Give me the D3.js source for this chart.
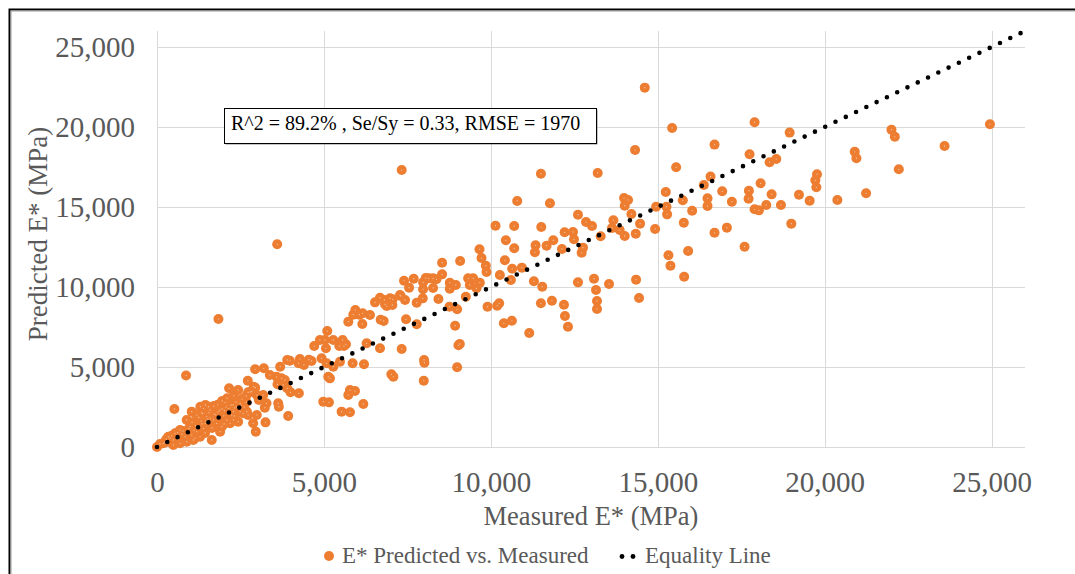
<!DOCTYPE html>
<html>
<head>
<meta charset="utf-8">
<script src="https://cdn.jsdelivr.net/npm/d3@7"></script>
<style>
  html, body { margin: 0; padding: 0; background: #fff; }
  svg { display: block; }
</style>
</head>
<body>
<svg id="chart" width="1075" height="574"></svg>
<script>
// Measured vs. predicted dynamic modulus E* (MPa): [measured, predicted]
const observations = [
  [17900,20300],[18950,19650],[16700,18900],[17750,18300],[18350,17800],[18550,18000],[20900,18450],[20950,18050],
  [16580,16900],[16380,16380],[19770,17040],[19720,16670],[19750,16230],[18080,16480],[16930,15980],[17730,16020],
  [17720,15520],[18410,15790],[19230,15770],[16490,15540],[16490,15060],[17220,15330],[19550,15390],[20380,15440],
  [21240,15860],[17900,14860],[18030,14790],[18250,15130],[18690,15130],[19000,13960],[16700,13390],[17070,13710],
  [17600,12520],[22000,19830],[22100,19390],[22220,17360],[23590,18810],[24950,20170],
  [14610,22460],[15430,19940],[14320,18560],[7330,17310],[11500,17080],[13200,17130],[15550,17480],[10790,15380],
  [11770,15230],[13990,15560],[14110,15440],[14010,15080],[15240,15940],[15750,15420],[15260,15020],[15280,14540],
  [14950,15020],[16030,14770],[15780,14020],
  [10140,13830],[10700,13810],[11510,13750],[12610,14520],[12850,14060],[13030,13810],[13670,14170],[13630,13690],
  [13860,13560],[14010,13190],[14340,13330],[14210,14560],[14470,13960],[14920,13630],[12210,13420],[12460,13440],
  [12490,12980],[10450,12920],[10700,12420],[11340,12610],[11320,12170],[11670,12580],[11870,12920],[12130,12380],
  [12760,12460],[12720,12140],[15320,11980],[15380,11330],[15910,12250],[15790,10640],[14350,10460],[13090,10520],
  [13150,9810],[13540,10190],[12610,10290],[11290,10360],[11540,10020],[10420,11670],[10930,11210],[10640,11140],
  [10600,10440],[9660,12360],[9720,11810],[9850,11330],[9870,10940],[9080,11630],[8540,11520],[8540,10790],
  [7400,10390],[7690,10520],[7550,9960],[7970,10290],[7970,9860],[8140,10540],[8270,10540],[8270,9940],
  [8770,10270],[8770,9890],[8950,10130],[9320,10540],[9470,10540],[9370,10130],[9670,10270],[9570,9920],
  [10270,10750],[9250,9390],[7280,9500],[6980,9290],[13290,13170],[14440,9310],[13180,9130],[13180,8620],
  [12190,8890],[8370,10480],[8050,10560],
  [6790,7880],[6700,7950],[6680,6170],[7020,4540],[7080,4390],[7330,6130],[7460,7980],[7780,7670],
  [8000,5440],[8010,5270],[7990,4140],[8930,7580],[9030,6360],[9070,6440],[8990,4980],[8760,8770],
  [8990,8610],[8430,9250],[7780,9020],[7960,9290],[7430,9190],[7300,9440],[7060,9230],[7050,8880],
  [6830,8920],[6680,9330],[9900,8770],[10190,8830],[10250,8980],[10390,7730],[10630,7890],[11150,7130],
  [11500,8980],[11830,9140],[12220,8190],[12310,7520],
  [6530,9040],[6810,9190],[6880,8810],[5730,7830],[5940,8560],[5880,8270],[6060,8270],[6160,8360],
  [6150,7690],[6380,8250],[5100,7250],[4880,6690],[5030,6690],[5280,6690],[5560,6690],[5060,6170],
  [5460,6310],[5600,6310],[5660,6420],[6280,6480],[5860,5230],[6200,5170],[4930,5540],[5080,5230],
  [5280,5020],[5480,5330],[5130,4390],[5180,4290],
  [4710,6310],[4630,5380],[4280,5500],[4240,5230],[3980,5390],[3900,5440],[4400,5130],[4550,5460],
  [3690,5020],[3380,4500],[3580,4390],[3730,4290],[3830,4190],[3610,3920],[3780,3880],[3900,3670],
  [4000,3420],[4250,3360],[4980,2830],[5150,2790],[5530,2210],[5730,3250],[5780,2170],[6180,2690],
  [5780,3560],[5930,3500],[2900,3770],[2730,3420],[2990,3250],[3180,3250],[3050,2940],[3280,2730],
  [3630,2730],[3650,2520],[3230,2460],[2990,2000],[2690,2210],[2490,2210],[2280,2630],[2240,2000],
  [3930,1940],[3250,1540],[2960,960],
  [870,4470],[520,2380],[1840,8000],[2160,3670],[2720,4140],[2940,4860],[3200,4920],[3600,12670],
  [0,0],[190,230],[340,330],[490,440],[640,480],[490,120],[690,230],[840,640],[890,330],[1040,750],
  [1090,440],[1190,960],[1290,640],[1390,1170],[1290,1270],[1440,1480],[1490,1890],[1540,2520],
  [1390,2420],[1590,2310],[1690,1690],[1790,1480],[1840,1890],[1640,440],[1890,960],[1940,1270],
  [2090,1690],[2190,2110],[2290,2210],[2390,2520],[2490,2730],[2290,1690],[2190,1480],[2430,1580],
  [2580,2110],[2730,2000],[2880,1480],[1040,2210],[1190,2000],[890,1690],[990,1270],[690,1060],
  [540,860],[340,640],[90,190],[240,310],[390,560],[570,690],[750,810],[930,940],[1110,1060],
  [1230,1190],[1350,1440],[1470,1630],[1590,1810],[1710,2060],[1830,2190],[1950,2380],[2070,2500],
  [2220,2630],[2370,2810],[2550,3000],[2670,3190],[2790,3440],[1140,560],[1440,880],[1650,1190],
  [2010,1440],[2310,1940],[2610,2500],[1300,2520],[1450,2630],[1700,2560],[1950,2880],[2100,3050],
  [2300,3200],[2430,3560],[2840,3460],[2940,3710],
  [280,480],[440,700],[620,900],[780,1000],[960,1150],[1160,1330],[1320,1620],[1520,1740],
  [1760,2010],[1880,2300],[2020,2260],[2150,2420],[2330,2450],[2520,2620],[2680,2800],[1050,1550],
  [1250,1850],[1560,2150],[1820,2640],[2040,2780]
];

// Line of equality y = x across the full axis range
const equalityLine = [[0, 0], [26000, 26000]];

const xTicks = [0, 5000, 10000, 15000, 20000, 25000];
const yTicks = [0, 5000, 10000, 15000, 20000, 25000];
const axisMax = 26000;

const xTitle = "Measured E* (MPa)";
const yTitle = "Predicted E* (MPa)";
const statsLabel = "R^2 = 89.2% , Se/Sy = 0.33, RMSE = 1970";
const legendLabels = ["E* Predicted vs. Measured", "Equality Line"];

const FONT = "'Liberation Serif', 'Times New Roman', Times, serif";
const ORANGE = "#ED7D31";
const GREY_TEXT = "#595959";
const GRID = "#d9d9d9";

const plot = { left: 157, right: 1025, top: 31, bottom: 447 };

const svg = d3.select("#chart");

const x = d3.scaleLinear().domain([0, axisMax]).range([plot.left, plot.right]);
const y = d3.scaleLinear().domain([0, axisMax]).range([plot.bottom, plot.top]);

// Outer chart frame
svg.append("rect")
  .attr("x", 9.5).attr("y", 9.5).attr("width", 1200).attr("height", 800)
  .attr("fill", "none").attr("stroke", "#000").attr("stroke-width", 2);
svg.append("rect")
  .attr("x", 11).attr("y", 11).attr("width", 1200).attr("height", 800)
  .attr("fill", "none").attr("stroke", "#9a9a9a").attr("stroke-width", 1);

// Gridlines
const gridG = svg.append("g");
gridG.selectAll("line.v").data(xTicks).join("line")
  .attr("class", "v")
  .attr("x1", d => Math.round(x(d)) + 0.5).attr("x2", d => Math.round(x(d)) + 0.5)
  .attr("y1", plot.top).attr("y2", plot.bottom)
  .attr("stroke", GRID).attr("stroke-width", 1);
gridG.selectAll("line.h").data(yTicks).join("line")
  .attr("class", "h")
  .attr("x1", plot.left).attr("x2", plot.right)
  .attr("y1", d => Math.round(y(d)) + 0.5).attr("y2", d => Math.round(y(d)) + 0.5)
  .attr("stroke", GRID).attr("stroke-width", 1);

// Axes (labels only; gridlines drawn above)
const fmt = d3.format(",");
const xAxis = svg.append("g")
  .attr("transform", `translate(0,${plot.bottom})`)
  .call(d3.axisBottom(x).tickValues(xTicks).tickSize(0).tickFormat(fmt));
xAxis.select(".domain").remove();
xAxis.selectAll("text")
  .attr("y", 45).attr("dy", 0)
  .attr("font-family", FONT).attr("font-size", 29).attr("fill", GREY_TEXT);

const yAxis = svg.append("g")
  .attr("transform", `translate(${plot.left},0)`)
  .call(d3.axisLeft(y).tickValues(yTicks).tickSize(0).tickFormat(fmt));
yAxis.select(".domain").remove();
yAxis.selectAll("text")
  .attr("x", -22).attr("dy", "0.33em")
  .attr("font-family", FONT).attr("font-size", 29).attr("fill", GREY_TEXT);

// Axis titles
svg.append("text")
  .attr("x", (plot.left + plot.right) / 2).attr("y", 525)
  .attr("text-anchor", "middle")
  .attr("font-family", FONT).attr("font-size", 26.5).attr("fill", GREY_TEXT)
  .text(xTitle);
svg.append("text")
  .attr("transform", `translate(47,${(plot.top + plot.bottom) / 2 - 5}) rotate(-90)`)
  .attr("text-anchor", "middle")
  .attr("font-family", FONT).attr("font-size", 27).attr("fill", GREY_TEXT)
  .text(yTitle);

// Scatter points
const pts = svg.append("g");
pts.selectAll("circle.pt").data(observations).join("circle")
  .attr("class", "pt")
  .attr("cx", d => x(d[0])).attr("cy", d => y(d[1]))
  .attr("r", 5).attr("fill", ORANGE);
pts.selectAll("circle.core").data(observations).join("circle")
  .attr("class", "core")
  .attr("cx", d => x(d[0])).attr("cy", d => y(d[1]))
  .attr("r", 0.6).attr("fill", "#f7cdb0");

// Equality line (round dotted)
const line = d3.line().x(d => x(d[0])).y(d => y(d[1]));
svg.append("path")
  .datum(equalityLine)
  .attr("d", line)
  .attr("fill", "none").attr("stroke", "#000")
  .attr("stroke-width", 4.6).attr("stroke-linecap", "round")
  .attr("stroke-dasharray", "0 11.4");

// Statistics box
const box = { x: 224, y: 108, w: 372, h: 35 };
svg.append("rect")
  .attr("x", box.x + 1.5).attr("y", box.y + 1.5).attr("width", box.w).attr("height", box.h)
  .attr("fill", "#8c8c8c");
svg.append("rect")
  .attr("x", box.x + 0.5).attr("y", box.y + 0.5).attr("width", box.w).attr("height", box.h)
  .attr("fill", "#fff").attr("stroke", "#000").attr("stroke-width", 1);
svg.append("text")
  .attr("x", box.x + 7).attr("y", box.y + 22)
  .attr("font-family", FONT).attr("font-size", 20).attr("fill", "#000")
  .text(statsLabel);

// Legend
const legend = svg.append("g");
legend.append("circle").attr("cx", 329).attr("cy", 556).attr("r", 5).attr("fill", ORANGE);
legend.append("text")
  .attr("x", 342).attr("y", 563)
  .attr("font-family", FONT).attr("font-size", 23).attr("fill", GREY_TEXT)
  .text(legendLabels[0]);
legend.selectAll("circle.eq").data([622, 633]).join("circle")
  .attr("class", "eq")
  .attr("cx", d => d).attr("cy", 556.5).attr("r", 2.4).attr("fill", "#000");
legend.append("text")
  .attr("x", 645).attr("y", 563)
  .attr("font-family", FONT).attr("font-size", 23).attr("fill", GREY_TEXT)
  .text(legendLabels[1]);
</script>
</body>
</html>
